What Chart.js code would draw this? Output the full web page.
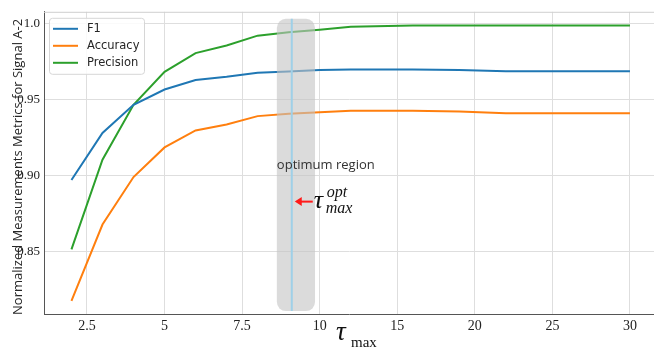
<!DOCTYPE html>
<html><head><meta charset="utf-8">
<script src="https://cdn.jsdelivr.net/npm/chart.js@4.4.1/dist/chart.umd.min.js"></script>
<style>html,body{margin:0;padding:0;background:#fff;}</style>
</head><body>
<canvas id="c" width="654" height="350"></canvas>
<script>
// ---- data ----
const tauValues = [2, 3, 4, 5, 6, 7, 8, 9, 10, 12, 16, 19, 22, 30];
const f1Values = [0.897, 0.928, 0.9466, 0.9566, 0.9629, 0.965, 0.9677, 0.9685, 0.9694, 0.9698, 0.9698, 0.9694, 0.9687, 0.9687];
const accuracyValues = [0.8174, 0.8677, 0.899, 0.9185, 0.9297, 0.9336, 0.9391, 0.9406, 0.9417, 0.9427, 0.9427, 0.9421, 0.941, 0.941];
const precisionValues = [0.8514, 0.9104, 0.9466, 0.9683, 0.9806, 0.9856, 0.9921, 0.9943, 0.996, 0.9979, 0.9988, 0.9988, 0.9988, 0.9988];
const seriesNames = ['F1', 'Accuracy', 'Precision'];
const seriesColors = ['#1f77b4', '#ff7f0e', '#2ca02c'];
const xTickLabels = [2.5, 5, 7.5, 10, 15, 20, 25, 30];
const yTickValues = [0.85, 0.90, 0.95, 1.0];
const optimumTau = 9.1;
const optimumRange = [8.62, 9.85];
const optimumYRange = [0.8107, 1.0032];

// piecewise tau axis (2.5 per tick up to 10, then 5 per tick)
function axisPos(t) { return t <= 10 ? t / 2.5 : 4 + (t - 10) / 5; }

const allSeries = [f1Values, accuracyValues, precisionValues];
const datasets = allSeries.map((vals, i) => ({
  label: seriesNames[i],
  data: tauValues.map((t, j) => ({ x: axisPos(t), y: vals[j] })),
  borderColor: seriesColors[i],
  backgroundColor: seriesColors[i],
  borderWidth: 2,
  pointRadius: 0,
  tension: 0,
  fill: false
}));

const overlay = {
  id: 'overlay',
  afterDatasetsDraw(chart) {
    const ctx = chart.ctx;
    const xs = chart.scales.x, ys = chart.scales.y;
    const ca = chart.chartArea;
    ctx.save();
    // top frame line
    ctx.strokeStyle = '#cfcfcf'; ctx.lineWidth = 1;
    ctx.beginPath(); ctx.moveTo(ca.left, ca.top + 0.5); ctx.lineTo(ca.right, ca.top + 0.5); ctx.stroke();

    // optimum region shading
    const x0 = xs.getPixelForValue(axisPos(optimumRange[0]));
    const x1 = xs.getPixelForValue(axisPos(optimumRange[1]));
    const y0 = ys.getPixelForValue(optimumYRange[1]);
    const y1 = ys.getPixelForValue(optimumYRange[0]);
    ctx.fillStyle = 'rgba(195,195,195,0.6)';
    ctx.beginPath();
    if (ctx.roundRect) ctx.roundRect(x0, y0, x1 - x0, y1 - y0, 9); else ctx.rect(x0, y0, x1 - x0, y1 - y0);
    ctx.fill();
    // optimum line
    const xo = xs.getPixelForValue(axisPos(optimumTau));
    ctx.strokeStyle = '#9fd0e8'; ctx.lineWidth = 2;
    ctx.beginPath(); ctx.moveTo(xo, y0); ctx.lineTo(xo, y1); ctx.stroke();

    // "optimum region" text
    ctx.fillStyle = '#333';
    ctx.font = '13px "Open Sans"';
    ctx.textAlign = 'left'; ctx.textBaseline = 'middle';
    ctx.fillText('optimum region', x0, ys.getPixelForValue(0.9068));

    // red arrow
    const ya = ys.getPixelForValue(0.8828);
    ctx.strokeStyle = '#ff1a1a'; ctx.fillStyle = '#ff1a1a'; ctx.lineWidth = 2;
    ctx.beginPath(); ctx.moveTo(xo + 21, ya); ctx.lineTo(xo + 8, ya); ctx.stroke();
    ctx.beginPath(); ctx.moveTo(xo + 3, ya); ctx.lineTo(xo + 10, ya - 4.5); ctx.lineTo(xo + 10, ya + 4.5); ctx.closePath(); ctx.fill();
    // tau_max^opt
    ctx.fillStyle = '#111';
    ctx.textBaseline = 'alphabetic';
    ctx.font = 'italic 26px "Liberation Serif"';
    ctx.fillText('τ', xo + 22, ya + 6);
    ctx.font = 'italic 16px "Liberation Serif"';
    ctx.fillText('opt', xo + 35, ya - 5);
    ctx.fillText('max', xo + 34, ya + 11);

    // x axis title tau_max
    ctx.font = 'italic 27px "Liberation Serif"';
    ctx.fillText('τ', 336, 340);
    ctx.font = '15px "Liberation Serif"';
    ctx.fillText('max', 351, 347);

    // y axis title
    ctx.save();
    ctx.translate(18, (ca.top + ca.bottom) / 2 + 4);
    ctx.rotate(-Math.PI / 2);
    ctx.font = '13px "Open Sans"';
    ctx.textAlign = 'center'; ctx.textBaseline = 'middle';
    ctx.fillStyle = '#262626';
    ctx.fillText('Normalized Measurements Metrics for Signal A-2', 0, 0);
    ctx.restore();

    // legend
    const lx = ca.left + 5, ly = ca.top + 6, lw = 95, lh = 56;
    ctx.fillStyle = 'rgba(255,255,255,0.85)';
    ctx.strokeStyle = '#d6d6d6'; ctx.lineWidth = 1;
    ctx.beginPath();
    if (ctx.roundRect) ctx.roundRect(lx + 0.5, ly + 0.5, lw, lh, 3); else ctx.rect(lx + 0.5, ly + 0.5, lw, lh);
    ctx.fill(); ctx.stroke();
    ctx.font = '11.5px "DejaVu Sans"';
    ctx.textAlign = 'left'; ctx.textBaseline = 'middle';
    chart.data.datasets.forEach((ds, i) => {
      const yy = ly + 11 + i * 17;
      ctx.strokeStyle = ds.borderColor; ctx.lineWidth = 2;
      ctx.beginPath(); ctx.moveTo(lx + 4, yy); ctx.lineTo(lx + 29, yy); ctx.stroke();
      ctx.fillStyle = '#262626';
      ctx.fillText(ds.label, lx + 38, yy);
    });
    ctx.restore();
  }
};

new Chart(document.getElementById('c'), {
  type: 'line',
  data: { datasets },
  plugins: [overlay],
  options: {
    responsive: false,
    animation: false,
    devicePixelRatio: 1,
    layout: { padding: { top: 7, right: 0, left: 0, bottom: 0 } },
    plugins: { legend: { display: false }, tooltip: { enabled: false } },
    scales: {
      x: {
        type: 'linear',
        min: 0.446, max: 8.31,
        afterBuildTicks: s => { s.ticks = xTickLabels.map(t => ({ value: axisPos(t) })); },
        afterFit: s => { s.height = 36; },
        ticks: {
          callback: (v, i) => String(xTickLabels[i]),
          font: { family: 'Liberation Serif', size: 14 },
          color: '#222', padding: 4, maxRotation: 0, autoSkip: false
        },
        grid: { color: '#dedede', lineWidth: 1, drawTicks: false },
        border: { color: '#555', width: 1 }
      },
      y: {
        min: 0.8088, max: 1.0078,
        afterBuildTicks: s => { s.ticks = yTickValues.map(v => ({ value: v })); },
        afterFit: s => { s.width = 44; },
        ticks: {
          callback: v => (v === 1 ? '1.0' : v.toFixed(2)),
          font: { family: 'Liberation Serif', size: 13 },
          color: '#222', padding: 4
        },
        grid: { color: '#dedede', lineWidth: 1, drawTicks: false },
        border: { color: '#555', width: 1 }
      }
    }
  }
});
</script>
</body></html>
